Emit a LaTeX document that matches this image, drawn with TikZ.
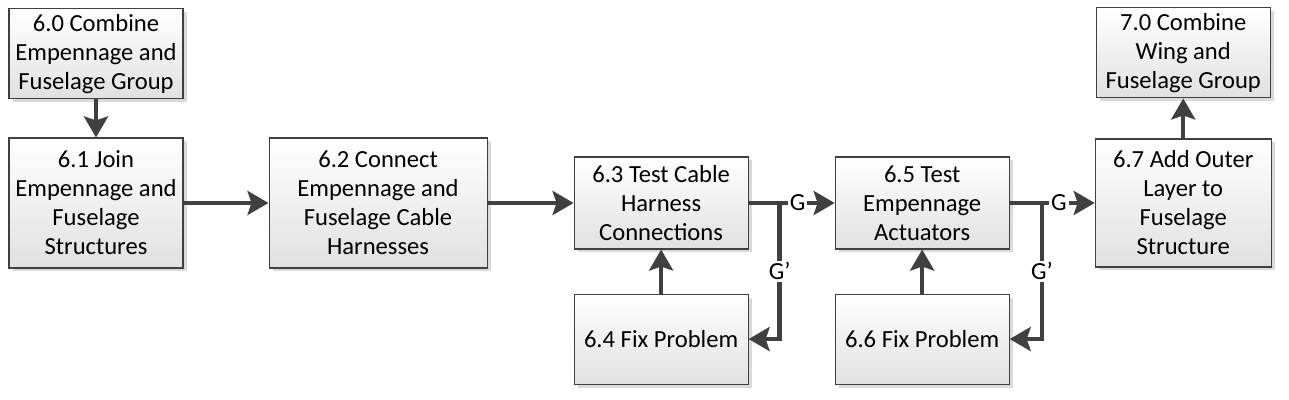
\documentclass[tikz,border=0pt]{standalone}
\usepackage{fontspec}
\setmainfont{Carlito}
\usepackage{xcolor}
\usetikzlibrary{calc, positioning, shadows, arrows.meta}
\definecolor{linegray}{HTML}{404040}

\begin{document}
\begin{tikzpicture}[task/.style={draw=linegray, line width=0.6pt, rectangle, align=center, top color=white, bottom color=black!12, drop shadow={shadow xshift=0.07cm, shadow yshift=-0.07cm, fill=black!15, opacity=1}, minimum width=3.48cm, minimum height=1.8cm, font=\fontsize{14}{16.5}\selectfont, inner sep=2pt},
			flow/.style={draw=linegray, line width=2.4pt, -{Stealth[length=0.42cm, width=0.48cm, inset=0.08cm]}},
			gate/.style={fill=white, inner sep=1pt, font=\fontsize{14}{16.5}\selectfont}
			]
			\useasboundingbox (0,0) rectangle (25.78,8);
			\node [task, minimum height=2.6cm](j61) at (1.92,3.94) {6.1 Join\\Empennage and\\Fuselage\\Structures};
			\node [task](c60) [above=0.76cm of j61] {6.0 Combine\\Empennage and\\Fuselage Group};
			\node [task, minimum width=4.36cm, minimum height=2.6cm](c62) [right=1.7cm of j61] {6.2 Connect\\Empennage and\\Fuselage Cable\\Harnesses};
			\node [task, minimum height=1.84cm](t63) [right=1.72cm of c62] {6.3 Test Cable\\Harness\\Connections};
			\node [task](f64) [below=0.88cm of t63] {6.4 Fix Problem};
			\node [task, minimum height=1.84cm](t65) [right=1.72cm of t63] {6.5 Test\\Empennage\\Actuators};
			\node [task](f66) [below=0.88cm of t65] {6.6 Fix Problem};
			\node [task, minimum width=3.52cm, minimum height=2.56cm](a67) [right=1.7cm of t65] {6.7 Add Outer\\Layer to\\Fuselage\\Structure};
			\node [task](c70) [above=0.8cm of a67] {7.0 Combine\\Wing and\\Fuselage Group};
			% main flow
			\draw[flow] (c60) -- (j61);
			\draw[flow] (j61) -- (c62);
			\draw[flow] (c62) -- (t63);
			\draw[flow] (a67) -- (c70);
			\draw[flow] (f64) -- (t63);
			\draw[flow] (f66) -- (t65);
			% test gates
			\coordinate (b63) at ($(t63.east)!0.36!(t65.west)$);
			\coordinate (b65) at ($(t65.east)!0.38!(a67.west)$);
			\draw[flow] (t63) -- (t65) node[pos=0.57, gate] {G};
			\draw[flow] (t65) -- (a67) node[pos=0.58, gate] {G};
			\draw[flow] (b63) |- (f64) node[pos=0.25, gate] {G’};
			\draw[flow] (b65) |- (f66) node[pos=0.25, gate] {G’};
		\end{tikzpicture}
\end{document}
